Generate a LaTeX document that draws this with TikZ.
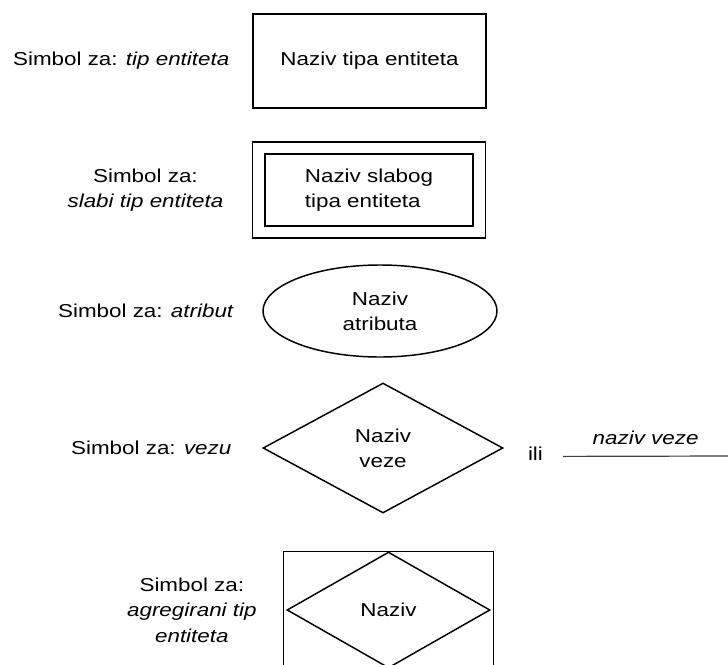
\documentclass[tikz,border=0pt]{standalone}
\usepackage{fontspec}
\setmainfont[FakeStretch=1.2]{Liberation Sans}
\usepackage{tikz}
\usetikzlibrary{positioning,fit,shapes.geometric}
\newcommand{\velicina}{\fontsize{14}{19}\selectfont}
\tikzstyle{simbol}=[draw,line width=1.1pt,align=center]
\tikzstyle{opis}=[inner sep=0pt,align=center]

\begin{document}
\begin{tikzpicture}[x=0.75pt,y=-0.75pt,font=\velicina]
\useasboundingbox (0,0) rectangle (728,664);

\node[simbol, minimum width=174.75pt, minimum height=70.5pt] (entitet) at (369.5,61) {Naziv tipa entiteta};
\node[opis, left=17pt of entitet] (opentitet) {Simbol za: \textit{tip entiteta}};

\node[simbol, align=left, minimum width=156pt, minimum height=54pt] (slabi) at (369,190) {Naziv slabog\\tipa entiteta};
\node[simbol, fit=(slabi), inner xsep=9pt, inner ysep=8.3pt] (slabiokvir) {};
\node[opis, left=21pt of slabiokvir] (opslabi) {Simbol za:\\\textit{slabi tip entiteta}};

\node[simbol, ellipse, minimum width=175.5pt, minimum height=69pt] (atribut) at (380,311) {Naziv\\atributa};
\node[opis, left=21pt of atribut] (opatribut) {Simbol za: \textit{atribut}};

\node[simbol, diamond, minimum width=180pt, minimum height=97.5pt] (veza) at (383,448) {Naziv\\veze};
\node[opis, left=23pt of veza] (opveza) {Simbol za: \textit{vezu}};
\node[opis, right=18pt of veza, yshift=-4pt] (ili) {ili};
\coordinate[right=15pt of ili, yshift=-2.3pt] (linijapocetak);
\coordinate (linijakraj) at (728,456);
\draw[line width=0.9pt, black!75] (linijapocetak) -- (linijakraj)
  node[midway, above=4.5pt, black] (nazivveze) {\textit{naziv veze}};

\node[simbol, diamond, minimum width=152.25pt, minimum height=87pt] (agregat) at (388.5,610) {Naziv};
\node[simbol, fit=(agregat), inner xsep=2pt, inner ysep=0pt] (agregatokvir) {};
\node[opis, left=19.5pt of agregatokvir] (opagregat) {Simbol za:\\\textit{agregirani tip}\\\textit{entiteta}};

\end{tikzpicture}
\end{document}
